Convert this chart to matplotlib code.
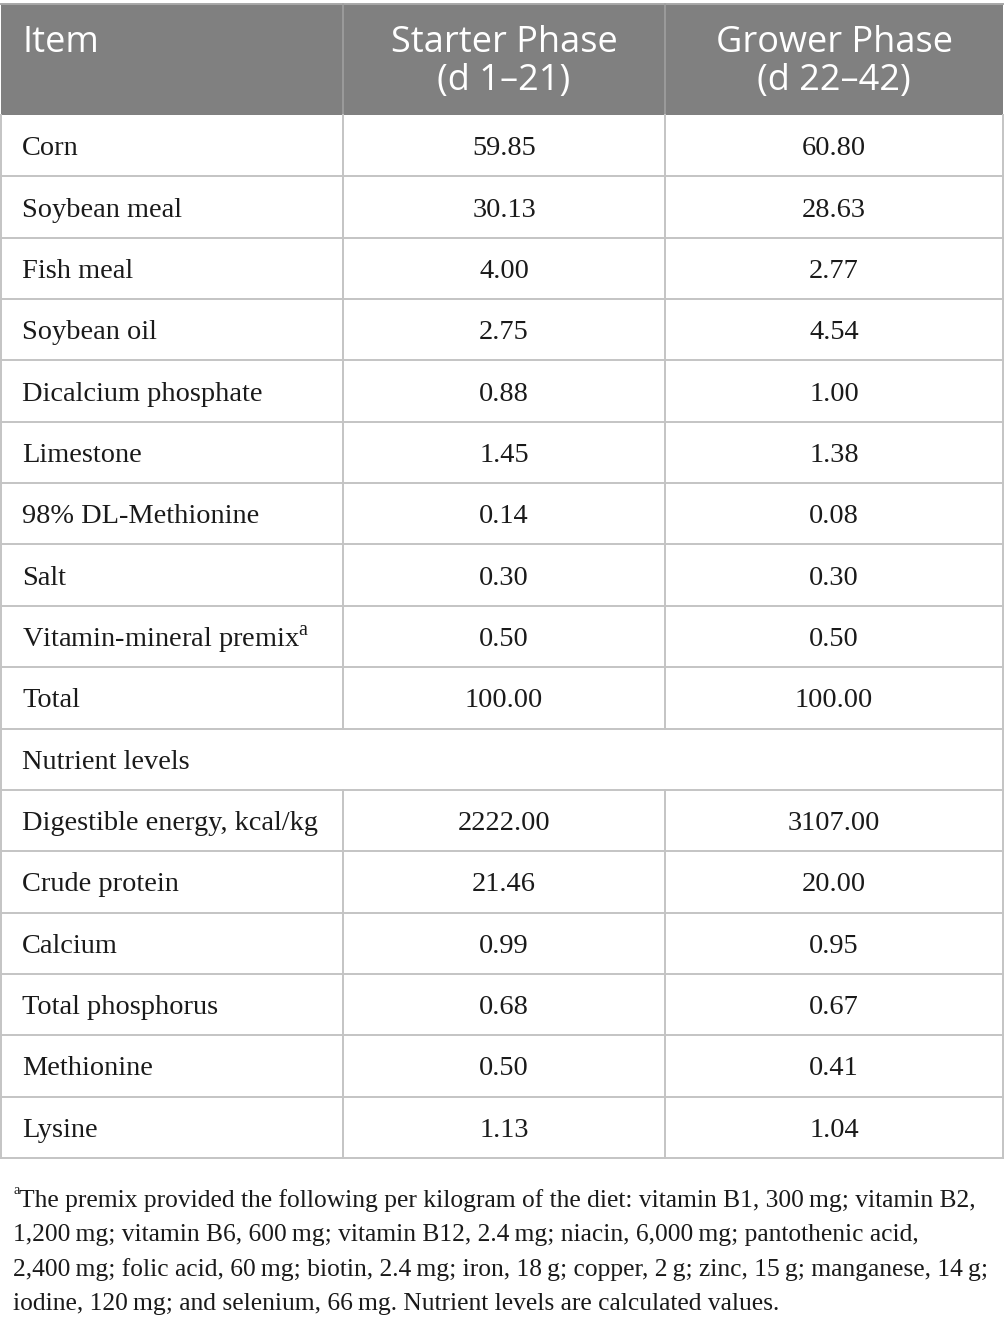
import matplotlib
matplotlib.use("Agg")
import matplotlib.pyplot as plt
from matplotlib.patches import Rectangle

# table content
HEADERS = ["Item", "Starter Phase\n(d 1\u201321)", "Grower Phase\n(d 22\u201342)"]
INGREDIENTS = ["Corn", "Soybean meal", "Fish meal", "Soybean oil", "Dicalcium phosphate",
               "Limestone", "98% DL-Methionine", "Salt", "Vitamin-mineral premix", "Total"]
ING_STARTER = ["59.85", "30.13", "4.00", "2.75", "0.88", "1.45", "0.14", "0.30", "0.50", "100.00"]
ING_GROWER = ["60.80", "28.63", "2.77", "4.54", "1.00", "1.38", "0.08", "0.30", "0.50", "100.00"]
SECTION = "Nutrient levels"
NUTRIENTS = ["Digestible energy, kcal/kg", "Crude protein", "Calcium", "Total phosphorus",
             "Methionine", "Lysine"]
NUT_STARTER = ["2222.00", "21.46", "0.99", "0.68", "0.50", "1.13"]
NUT_GROWER = ["3107.00", "20.00", "0.95", "0.67", "0.41", "1.04"]
FOOTNOTE = [
    "The premix provided the following per kilogram of the diet: vitamin B1, 300\u2009mg; vitamin B2,",
    "1,200\u2009mg; vitamin B6, 600\u2009mg; vitamin B12, 2.4\u2009mg; niacin, 6,000\u2009mg; pantothenic acid,",
    "2,400\u2009mg; folic acid, 60\u2009mg; biotin, 2.4\u2009mg; iron, 18\u2009g; copper, 2\u2009g; zinc, 15\u2009g; manganese, 14\u2009g;",
    "iodine, 120\u2009mg; and selenium, 66\u2009mg. Nutrient levels are calculated values.",
]

W, H = 1005, 1322
X0, X1, X2, X3 = 1, 343, 665, 1003
HEAD_TOP, HEAD_BOT = 4, 115
BODY_BOT = 1158
LINE = "#c4c4c4"
SERIF = ["Liberation Serif", "DejaVu Serif"]
SANS = ["Open Sans", "DejaVu Sans"]

fig = plt.figure(figsize=(W / 100, H / 100), dpi=100)
ax = fig.add_axes([0, 0, 1, 1])
ax.set_xlim(0, W)
ax.set_ylim(H, 0)
ax.axis("off")

# header
ax.add_patch(Rectangle((X0, HEAD_TOP), X3 - X0, HEAD_BOT - HEAD_TOP, color="#808080", lw=0))
ax.plot([X0, X3], [HEAD_TOP, HEAD_TOP], color="#a8a8a8", lw=1.4)
for x in (X1, X2):
    ax.plot([x, x], [HEAD_TOP, HEAD_BOT], color="#a0a0a0", lw=1.2)
ax.text(22, 43, HEADERS[0], color="white", fontsize=26, family=SANS, va="center", ha="left")
for i, (xa, xb) in enumerate([(X1, X2), (X2, X3)]):
    l1, l2 = HEADERS[i + 1].split("\n")
    ax.text((xa + xb) / 2, 43, l1, color="white", fontsize=26, family=SANS, va="center", ha="center")
    ax.text((xa + xb) / 2, 81, l2, color="white", fontsize=26, family=SANS, va="center", ha="center")

# body rows
rows = list(zip(INGREDIENTS, ING_STARTER, ING_GROWER)) + [(SECTION, None, None)] + \
    list(zip(NUTRIENTS, NUT_STARTER, NUT_GROWER))
rh = (BODY_BOT - HEAD_BOT) / len(rows)
for k, (name, s, g) in enumerate(rows):
    top = HEAD_BOT + k * rh
    yc = top + rh / 2 + 3
    ax.plot([X0, X3], [top + rh, top + rh], color=LINE, lw=1.4)
    if s is not None:
        for x in (X1, X2):
            ax.plot([x, x], [top, top + rh], color=LINE, lw=1.4)
        ax.text((X1 + X2) / 2, yc, s, fontsize=20.4, family=SERIF, va="center", ha="center", color="#1a1a1a")
        ax.text((X2 + X3) / 2, yc, g, fontsize=20.4, family=SERIF, va="center", ha="center", color="#1a1a1a")
    label = name + ("$^{\\mathregular{a}}$" if name == "Vitamin-mineral premix" else "")
    ax.text(22, yc, label, fontsize=20.4, family=SERIF, va="center", ha="left", color="#1a1a1a")
ax.plot([X0, X0], [HEAD_BOT, BODY_BOT], color=LINE, lw=1.4)
ax.plot([X3, X3], [HEAD_BOT, BODY_BOT], color=LINE, lw=1.4)

# footnote
ax.text(13, 1191, "a", fontsize=10, family=SERIF, va="center", ha="left", color="#1a1a1a")
for j, line in enumerate(FOOTNOTE):
    ax.text(19 if j == 0 else 13, 1201 + j * 34.3, line, fontsize=18.4, family=SERIF,
            va="center", ha="left", color="#1a1a1a")

fig.savefig("out.png", dpi=100)
